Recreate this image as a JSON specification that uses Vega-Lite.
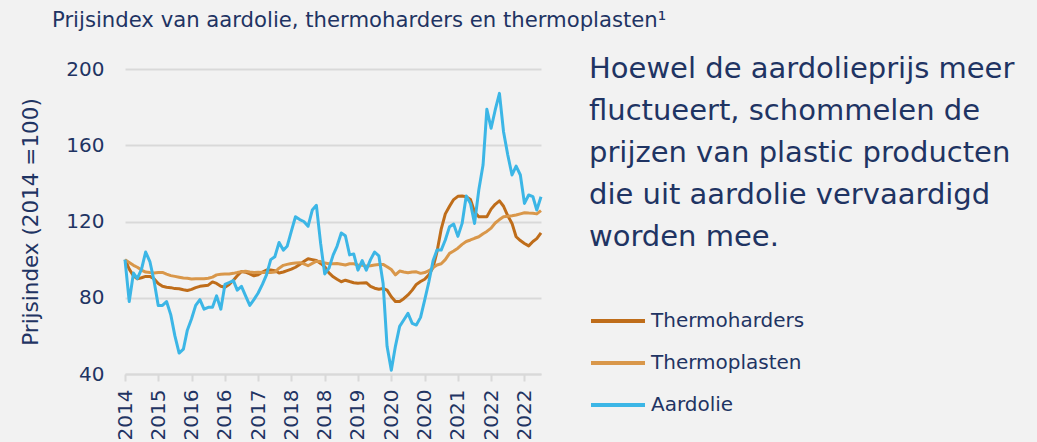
{
  "$schema": "https://vega.github.io/schema/vega-lite/v6.json",
  "width": 416,
  "height": 305,
  "autosize": {"type": "none"},
  "padding": {"left": 125, "top": 69, "right": 496, "bottom": 68},
  "background": "#f2f2f2",
  "config": {
    "view": {"stroke": null},
    "font": "DejaVu Sans"
  },
  "title": {
    "text": "Prijsindex van aardolie, thermoharders en thermoplasten¹",
    "anchor": "start",
    "frame": "group",
    "dx": -73,
    "offset": 24,
    "font": "DejaVu Sans",
    "fontSize": 21.2,
    "fontWeight": "normal",
    "color": "#1f3463"
  },
  "data": {
    "values": [
      {"d": "2014-12-01", "Thermoharders": 100, "Thermoplasten": 100, "Aardolie": 100},
      {"d": "2015-01-01", "Thermoharders": 95, "Thermoplasten": 98.5, "Aardolie": 78},
      {"d": "2015-02-01", "Thermoharders": 91.5, "Thermoplasten": 97, "Aardolie": 93},
      {"d": "2015-03-01", "Thermoharders": 90, "Thermoplasten": 96, "Aardolie": 90},
      {"d": "2015-04-01", "Thermoharders": 90.5, "Thermoplasten": 94.5, "Aardolie": 95},
      {"d": "2015-05-01", "Thermoharders": 91.2, "Thermoplasten": 93.5, "Aardolie": 104},
      {"d": "2015-06-01", "Thermoharders": 91.2, "Thermoplasten": 93.2, "Aardolie": 99},
      {"d": "2015-07-01", "Thermoharders": 90, "Thermoplasten": 93, "Aardolie": 89},
      {"d": "2015-08-01", "Thermoharders": 87.5, "Thermoplasten": 93.2, "Aardolie": 76},
      {"d": "2015-09-01", "Thermoharders": 86, "Thermoplasten": 93.3, "Aardolie": 76},
      {"d": "2015-10-01", "Thermoharders": 85.5, "Thermoplasten": 92.4, "Aardolie": 78},
      {"d": "2015-11-01", "Thermoharders": 85.3, "Thermoplasten": 91.6, "Aardolie": 71},
      {"d": "2015-12-01", "Thermoharders": 84.8, "Thermoplasten": 91.2, "Aardolie": 60},
      {"d": "2016-01-01", "Thermoharders": 84.7, "Thermoplasten": 90.8, "Aardolie": 51},
      {"d": "2016-02-01", "Thermoharders": 84.2, "Thermoplasten": 90.4, "Aardolie": 53},
      {"d": "2016-03-01", "Thermoharders": 83.8, "Thermoplasten": 90.2, "Aardolie": 63},
      {"d": "2016-04-01", "Thermoharders": 84.4, "Thermoplasten": 89.8, "Aardolie": 69},
      {"d": "2016-05-01", "Thermoharders": 85.3, "Thermoplasten": 90, "Aardolie": 76},
      {"d": "2016-06-01", "Thermoharders": 86, "Thermoplasten": 90, "Aardolie": 79},
      {"d": "2016-07-01", "Thermoharders": 86.3, "Thermoplasten": 90, "Aardolie": 74},
      {"d": "2016-08-01", "Thermoharders": 86.6, "Thermoplasten": 90.2, "Aardolie": 75},
      {"d": "2016-09-01", "Thermoharders": 88.3, "Thermoplasten": 90.8, "Aardolie": 75},
      {"d": "2016-10-01", "Thermoharders": 87.5, "Thermoplasten": 92, "Aardolie": 81},
      {"d": "2016-11-01", "Thermoharders": 86, "Thermoplasten": 92.3, "Aardolie": 74},
      {"d": "2016-12-01", "Thermoharders": 85.5, "Thermoplasten": 92.4, "Aardolie": 87},
      {"d": "2017-01-01", "Thermoharders": 87, "Thermoplasten": 92.5, "Aardolie": 88},
      {"d": "2017-02-01", "Thermoharders": 89.2, "Thermoplasten": 92.8, "Aardolie": 89},
      {"d": "2017-03-01", "Thermoharders": 91.5, "Thermoplasten": 93.2, "Aardolie": 84},
      {"d": "2017-04-01", "Thermoharders": 93.8, "Thermoplasten": 93.7, "Aardolie": 86},
      {"d": "2017-05-01", "Thermoharders": 93.4, "Thermoplasten": 93.9, "Aardolie": 81},
      {"d": "2017-06-01", "Thermoharders": 92.5, "Thermoplasten": 93.5, "Aardolie": 76},
      {"d": "2017-07-01", "Thermoharders": 91.5, "Thermoplasten": 93.2, "Aardolie": 79},
      {"d": "2017-08-01", "Thermoharders": 92, "Thermoplasten": 93.4, "Aardolie": 82.5},
      {"d": "2017-09-01", "Thermoharders": 93.5, "Thermoplasten": 93.2, "Aardolie": 87},
      {"d": "2017-10-01", "Thermoharders": 94.5, "Thermoplasten": 93.2, "Aardolie": 92},
      {"d": "2017-11-01", "Thermoharders": 94.5, "Thermoplasten": 93.3, "Aardolie": 100},
      {"d": "2017-12-01", "Thermoharders": 94.2, "Thermoplasten": 93.5, "Aardolie": 101.5},
      {"d": "2018-01-01", "Thermoharders": 93, "Thermoplasten": 95.5, "Aardolie": 109},
      {"d": "2018-02-01", "Thermoharders": 93.5, "Thermoplasten": 97, "Aardolie": 105},
      {"d": "2018-03-01", "Thermoharders": 94.2, "Thermoplasten": 97.5, "Aardolie": 107},
      {"d": "2018-04-01", "Thermoharders": 95, "Thermoplasten": 98, "Aardolie": 115},
      {"d": "2018-05-01", "Thermoharders": 96, "Thermoplasten": 98.2, "Aardolie": 122.5},
      {"d": "2018-06-01", "Thermoharders": 97.5, "Thermoplasten": 98.4, "Aardolie": 121},
      {"d": "2018-07-01", "Thermoharders": 99, "Thermoplasten": 97.8, "Aardolie": 120},
      {"d": "2018-08-01", "Thermoharders": 100.5, "Thermoplasten": 96.8, "Aardolie": 117.5},
      {"d": "2018-09-01", "Thermoharders": 100, "Thermoplasten": 98, "Aardolie": 126},
      {"d": "2018-10-01", "Thermoharders": 99.5, "Thermoplasten": 99.2, "Aardolie": 128.5},
      {"d": "2018-11-01", "Thermoharders": 98, "Thermoplasten": 99, "Aardolie": 108.5},
      {"d": "2018-12-01", "Thermoharders": 96.3, "Thermoplasten": 98.2, "Aardolie": 92.5},
      {"d": "2019-01-01", "Thermoharders": 93, "Thermoplasten": 97.8, "Aardolie": 95.5},
      {"d": "2019-02-01", "Thermoharders": 91, "Thermoplasten": 97.8, "Aardolie": 102.5},
      {"d": "2019-03-01", "Thermoharders": 89.7, "Thermoplasten": 98, "Aardolie": 107},
      {"d": "2019-04-01", "Thermoharders": 88.4, "Thermoplasten": 97.6, "Aardolie": 114},
      {"d": "2019-05-01", "Thermoharders": 89.2, "Thermoplasten": 97.2, "Aardolie": 112.5},
      {"d": "2019-06-01", "Thermoharders": 88.5, "Thermoplasten": 97.8, "Aardolie": 102.5},
      {"d": "2019-07-01", "Thermoharders": 87.9, "Thermoplasten": 97.8, "Aardolie": 103},
      {"d": "2019-08-01", "Thermoharders": 87.6, "Thermoplasten": 97.2, "Aardolie": 94.5},
      {"d": "2019-09-01", "Thermoharders": 87.8, "Thermoplasten": 97, "Aardolie": 99.5},
      {"d": "2019-10-01", "Thermoharders": 87.9, "Thermoplasten": 96.6, "Aardolie": 94.5},
      {"d": "2019-11-01", "Thermoharders": 86, "Thermoplasten": 96.8, "Aardolie": 100},
      {"d": "2019-12-01", "Thermoharders": 85, "Thermoplasten": 97.2, "Aardolie": 104},
      {"d": "2020-01-01", "Thermoharders": 84.5, "Thermoplasten": 97.5, "Aardolie": 102},
      {"d": "2020-02-01", "Thermoharders": 84.9, "Thermoplasten": 97.5, "Aardolie": 87.5},
      {"d": "2020-03-01", "Thermoharders": 84, "Thermoplasten": 96.3, "Aardolie": 54.5},
      {"d": "2020-04-01", "Thermoharders": 80.5, "Thermoplasten": 94.8, "Aardolie": 42},
      {"d": "2020-05-01", "Thermoharders": 78, "Thermoplasten": 92, "Aardolie": 54.5},
      {"d": "2020-06-01", "Thermoharders": 78, "Thermoplasten": 94, "Aardolie": 65},
      {"d": "2020-07-01", "Thermoharders": 79.5, "Thermoplasten": 93.5, "Aardolie": 68.3},
      {"d": "2020-08-01", "Thermoharders": 81.5, "Thermoplasten": 93.1, "Aardolie": 71.8},
      {"d": "2020-09-01", "Thermoharders": 84, "Thermoplasten": 93.5, "Aardolie": 66.6},
      {"d": "2020-10-01", "Thermoharders": 87, "Thermoplasten": 93.6, "Aardolie": 65.7},
      {"d": "2020-11-01", "Thermoharders": 88.5, "Thermoplasten": 92.8, "Aardolie": 69.7},
      {"d": "2020-12-01", "Thermoharders": 89.7, "Thermoplasten": 93.2, "Aardolie": 78.8},
      {"d": "2021-01-01", "Thermoharders": 92, "Thermoplasten": 94.2, "Aardolie": 88.4},
      {"d": "2021-02-01", "Thermoharders": 96, "Thermoplasten": 95.8, "Aardolie": 99.5},
      {"d": "2021-03-01", "Thermoharders": 104, "Thermoplasten": 97.2, "Aardolie": 105},
      {"d": "2021-04-01", "Thermoharders": 116, "Thermoplasten": 97.8, "Aardolie": 105},
      {"d": "2021-05-01", "Thermoharders": 124, "Thermoplasten": 100, "Aardolie": 110.3},
      {"d": "2021-06-01", "Thermoharders": 128, "Thermoplasten": 103.3, "Aardolie": 117.3},
      {"d": "2021-07-01", "Thermoharders": 131.5, "Thermoplasten": 104.5, "Aardolie": 118.7},
      {"d": "2021-08-01", "Thermoharders": 133.2, "Thermoplasten": 106, "Aardolie": 112.2},
      {"d": "2021-09-01", "Thermoharders": 133.4, "Thermoplasten": 108, "Aardolie": 119},
      {"d": "2021-10-01", "Thermoharders": 133, "Thermoplasten": 109.5, "Aardolie": 133.4},
      {"d": "2021-11-01", "Thermoharders": 131.5, "Thermoplasten": 110.3, "Aardolie": 129.5},
      {"d": "2021-12-01", "Thermoharders": 125, "Thermoplasten": 111.2, "Aardolie": 119},
      {"d": "2022-01-01", "Thermoharders": 122.5, "Thermoplasten": 112, "Aardolie": 136.5},
      {"d": "2022-02-01", "Thermoharders": 122.5, "Thermoplasten": 113.6, "Aardolie": 149.6},
      {"d": "2022-03-01", "Thermoharders": 122.5, "Thermoplasten": 114.8, "Aardolie": 178.9},
      {"d": "2022-04-01", "Thermoharders": 126.5, "Thermoplasten": 116.5, "Aardolie": 168.9},
      {"d": "2022-05-01", "Thermoharders": 129, "Thermoplasten": 119.2, "Aardolie": 178.5},
      {"d": "2022-06-01", "Thermoharders": 130.8, "Thermoplasten": 121, "Aardolie": 187.2},
      {"d": "2022-07-01", "Thermoharders": 128, "Thermoplasten": 122.5, "Aardolie": 167.1},
      {"d": "2022-08-01", "Thermoharders": 123, "Thermoplasten": 122.8, "Aardolie": 154.9},
      {"d": "2022-09-01", "Thermoharders": 119, "Thermoplasten": 123, "Aardolie": 144.4},
      {"d": "2022-10-01", "Thermoharders": 112, "Thermoplasten": 123.4, "Aardolie": 149.1},
      {"d": "2022-11-01", "Thermoharders": 110, "Thermoplasten": 124, "Aardolie": 144.4},
      {"d": "2022-12-01", "Thermoharders": 108.5, "Thermoplasten": 124.6, "Aardolie": 129.5},
      {"d": "2023-01-01", "Thermoharders": 107.2, "Thermoplasten": 124.4, "Aardolie": 133.9},
      {"d": "2023-02-01", "Thermoharders": 109.5, "Thermoplasten": 124.3, "Aardolie": 133},
      {"d": "2023-03-01", "Thermoharders": 111, "Thermoplasten": 124, "Aardolie": 126},
      {"d": "2023-04-01", "Thermoharders": 114, "Thermoplasten": 125.7, "Aardolie": 133}
    ]
  },
  "transform": [
    {"fold": ["Thermoharders", "Thermoplasten", "Aardolie"], "as": ["reeks", "index"]}
  ],
  "mark": {"type": "line", "strokeWidth": 3, "strokeJoin": "round"},
  "encoding": {
    "x": {
      "field": "d",
      "type": "temporal",
      "scale": {"type": "utc", "nice": false},
      "axis": {
        "title": null,
        "format": "%Y",
        "values": [
          {"year": 2014, "month": 12, "date": 1, "utc": true},
          {"year": 2015, "month": 8, "date": 1, "utc": true},
          {"year": 2016, "month": 4, "date": 1, "utc": true},
          {"year": 2016, "month": 12, "date": 1, "utc": true},
          {"year": 2017, "month": 8, "date": 1, "utc": true},
          {"year": 2018, "month": 4, "date": 1, "utc": true},
          {"year": 2018, "month": 12, "date": 1, "utc": true},
          {"year": 2019, "month": 8, "date": 1, "utc": true},
          {"year": 2020, "month": 4, "date": 1, "utc": true},
          {"year": 2020, "month": 12, "date": 1, "utc": true},
          {"year": 2021, "month": 8, "date": 1, "utc": true},
          {"year": 2022, "month": 4, "date": 1, "utc": true},
          {"year": 2022, "month": 12, "date": 1, "utc": true}
        ],
        "labelAngle": -90,
        "labelFontSize": 20,
        "labelColor": "#1f3463",
        "labelFont": "DejaVu Sans",
        "labelPadding": 8,
        "labelOverlap": false,
        "labelFlush": false,
        "grid": false,
        "domainColor": "#d9d9d9",
        "domainWidth": 2,
        "tickColor": "#d9d9d9",
        "tickWidth": 2,
        "tickSize": 7
      }
    },
    "y": {
      "field": "index",
      "type": "quantitative",
      "scale": {"domain": [40, 200], "nice": false, "zero": false},
      "axis": {
        "title": "Prijsindex (2014 =100)",
        "titleFontSize": 21.5,
        "titleFontWeight": "normal",
        "titleColor": "#1f3463",
        "titleFont": "DejaVu Sans",
        "titlePadding": 23,
        "values": [40, 80, 120, 160, 200],
        "labelFontSize": 20,
        "labelColor": "#1f3463",
        "labelFont": "DejaVu Sans",
        "labelPadding": 21,
        "domain": false,
        "ticks": false,
        "gridColor": "#d9d9d9",
        "gridWidth": 2
      }
    },
    "color": {
      "field": "reeks",
      "type": "nominal",
      "sort": ["Thermoharders", "Thermoplasten", "Aardolie"],
      "scale": {
        "domain": ["Thermoharders", "Thermoplasten", "Aardolie"],
        "range": ["#bf6d1a", "#d9974a", "#3cb6e6"]
      },
      "legend": {
        "orient": "none",
        "legendX": 464,
        "legendY": -14,
        "padding": 0,
        "title": ["Hoewel de aardolieprijs meer", "fluctueert, schommelen de", "prijzen van plastic producten", "die uit aardolie vervaardigd", "worden mee."],
        "titleFont": "DejaVu Sans",
        "titleFontSize": 29,
        "titleFontWeight": "normal",
        "titleColor": "#1f3463",
        "titleLineHeight": 42,
        "titleLimit": 0,
        "titlePadding": 58,
        "symbolType": "M-3,0H3",
        "symbolSize": 324,
        "symbolStrokeWidth": 4,
        "symbolOffset": 18,
        "labelOffset": 22,
        "labelFont": "DejaVu Sans",
        "labelFontSize": 20,
        "labelColor": "#1f3463",
        "labelLimit": 0,
        "rowPadding": 21
      }
    }
  }
}
